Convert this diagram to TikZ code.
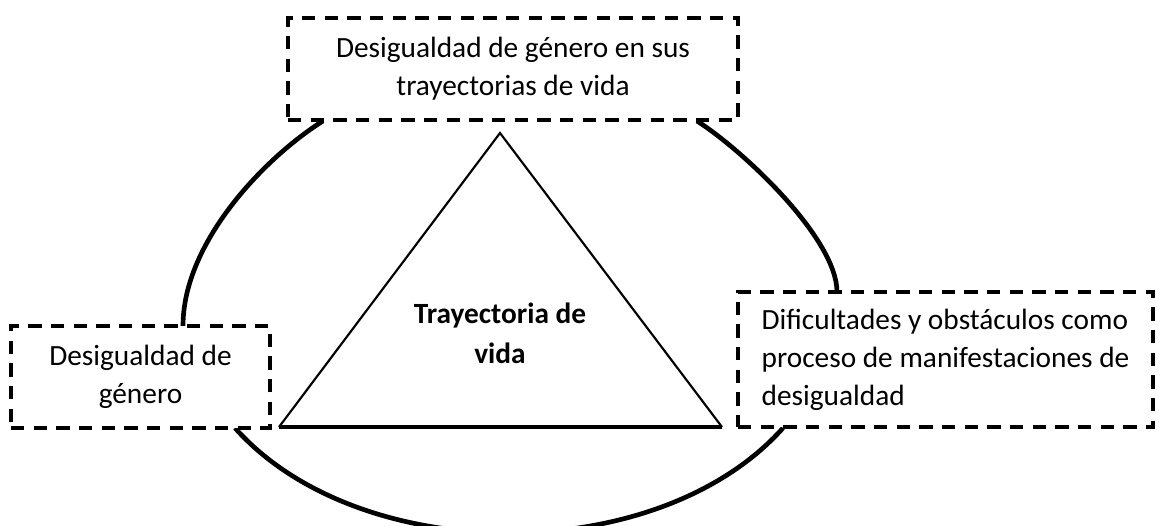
\documentclass[tikz,border=0pt]{standalone}
\usepackage{fontspec}
\setmainfont{Carlito}
\begin{document}
\begin{tikzpicture}[x=0.75pt,y=-0.75pt,
  dbox/.style={draw, dash pattern=on 10pt off 7pt, line width=3pt, fill=white,
    inner sep=0pt, font=\fontsize{22}{28.5}\selectfont},
  ring/.style={line width=3.5pt},
  tri/.style={line width=1.6pt, line join=miter},
  base/.style={line width=2.6pt},
  ]
\useasboundingbox (0,0) rectangle (1159,525);
% ring arcs
\coordinate (la) at (323,121);
\coordinate (lb) at (183,326);
\coordinate (ra) at (697,121);
\coordinate (rb) at (837,292);
\coordinate (ba) at (235,428);
\coordinate (bb) at (783,428);
\draw[ring] (la) .. controls (267,156) and (183,241) .. (lb);
\draw[ring] (ra) .. controls (744,151) and (837,239) .. (rb);
\draw[ring] (ba) .. controls (360,568) and (658,568) .. (bb);
% boxes
\node[dbox, minimum width=337.5pt, minimum height=76.5pt, align=center] (top) at (513,69)
  {Desigualdad de género en sus\\trayectorias de vida};
\node[dbox, minimum width=194.25pt, minimum height=76.5pt, align=center] (left) at (140.5,377)
  {Desigualdad de\\género};
\node[dbox, minimum width=311.25pt, minimum height=101.25pt, align=left] (right) at (945.5,359.5)
  {Dificultades y obstáculos como\\proceso de manifestaciones de\\desigualdad};
% triangle
\coordinate (apex) at (500,133);
\coordinate (bl) at (279,427);
\coordinate (br) at (722,427);
\draw[tri] (bl) -- (apex) -- (br);
\draw[base] (bl) -- (br);
\node[font=\fontsize{22}{30}\selectfont\bfseries, align=center] (center) at (500,333)
  {Trayectoria de\\vida};
\end{tikzpicture}
\end{document}
